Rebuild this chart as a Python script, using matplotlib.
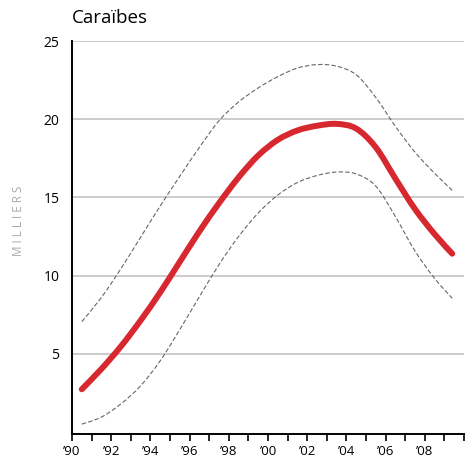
import matplotlib
matplotlib.use("Agg")
import matplotlib.pyplot as plt
from matplotlib.path import Path
from matplotlib.patches import PathPatch

plt.rcParams['font.family'] = ['Open Sans', 'DejaVu Sans']

# values (thousands), mid-year points
years = [1990.5, 1991.5, 1992.5, 1993.5, 1994.5, 1995.5, 1996.5, 1997.5, 1998.5, 1999.5,
         2000.5, 2001.5, 2002.5, 2003.5, 2004.5, 2005.5, 2006.5, 2007.5, 2008.5, 2009.4]
central = [2.73, 4.03, 5.48, 7.13, 8.93, 10.88, 12.83, 14.63, 16.28, 17.68,
           18.68, 19.28, 19.58, 19.7, 19.4, 18.2, 16.2, 14.25, 12.65, 11.4]
upper = [7.05, 8.6, 10.45, 12.45, 14.45, 16.35, 18.2, 19.9, 21.1, 22.0,
         22.72, 23.27, 23.49, 23.39, 22.84, 21.39, 19.54, 17.89, 16.54, 15.45]
lower = [0.5, 0.95, 1.8, 2.95, 4.55, 6.55, 8.65, 10.7, 12.5, 14.0,
         15.15, 15.95, 16.4, 16.62, 16.5, 15.72, 13.77, 11.57, 9.82, 8.55]

y_ticks = [5, 10, 15, 20, 25]
x_ticks = list(range(1990, 2011))
x_labels = ["\u2019%02d" % (y % 100) if (y % 2 == 0 and y < 2010) else "" for y in x_ticks]


def smooth_path(xs, ys):
    # catmull-rom through the points, drawn as cubic bezier segments
    pts = list(zip(xs, ys))
    verts = [pts[0]]
    codes = [Path.MOVETO]
    n = len(pts)
    for i in range(n - 1):
        p0 = pts[max(i - 1, 0)]
        p1 = pts[i]
        p2 = pts[i + 1]
        p3 = pts[min(i + 2, n - 1)]
        c1 = (p1[0] + (p2[0] - p0[0]) / 6, p1[1] + (p2[1] - p0[1]) / 6)
        c2 = (p2[0] - (p3[0] - p1[0]) / 6, p2[1] - (p3[1] - p1[1]) / 6)
        verts += [c1, c2, p2]
        codes += [Path.CURVE4] * 3
    return Path(verts, codes)


fig = plt.figure(figsize=(4.68, 4.59), dpi=100)
ax = fig.add_axes([72 / 468, 25 / 459, 392 / 468, 393 / 459])

for v in y_ticks:
    ax.axhline(v, color='#c8c8c8', lw=1.3, zorder=1)

for band in (upper, lower):
    ax.add_patch(PathPatch(smooth_path(years, band), fill=False, edgecolor='#666666',
                           lw=0.8, linestyle=(0, (4, 2)), zorder=2))
ax.add_patch(PathPatch(smooth_path(years, central), fill=False, edgecolor='#d7282f',
                       lw=4.3, capstyle='round', joinstyle='round', zorder=3))

ax.set_xlim(1990, 2010)
ax.set_ylim(-0.13, 25)
ax.set_yticks(y_ticks)
ax.set_yticklabels([str(v) for v in y_ticks], fontsize=10)
ax.tick_params(axis='y', length=0, pad=9)
ax.set_xticks(x_ticks)
ax.set_xticklabels(x_labels, fontsize=9.5)
ax.tick_params(axis='x', length=5, width=1.2, pad=3)

for side in ['top', 'right']:
    ax.spines[side].set_visible(False)
ax.spines['left'].set_linewidth(1.4)
ax.spines['bottom'].set_linewidth(1.4)

fig.text(72 / 468, 1 - 18 / 459, "Cara\u00efbes", fontsize=13.5, va='center', ha='left')
fig.text(18 / 468, 1 - 221 / 459, "M I L L I E R S", fontsize=8.5, color='#aaaaaa',
         rotation=90, va='center', ha='center')

fig.savefig("out.png", dpi=100)
